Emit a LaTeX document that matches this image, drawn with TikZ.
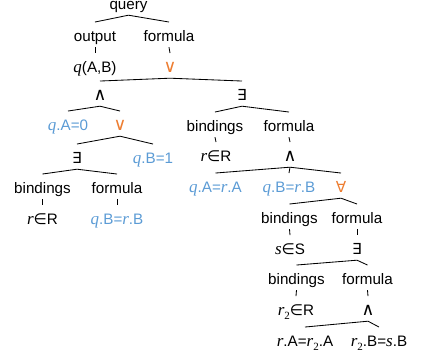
\documentclass[tikz,border=0pt]{standalone}
\usepackage{fontspec}
\setmainfont{Liberation Sans}
\newfontfamily\symfont{DejaVu Sans}
\newfontfamily\varfont[Scale=1.12]{Liberation Serif}
\newcommand\mvar[1]{{\varfont\itshape #1}}
\newcommand\subtwo{\raisebox{-0.4ex}{\varfont\fontsize{7}{8}\selectfont 2}}
\newcommand\sym[1]{{\symfont #1}}
\newcommand\lop[1]{{\symfont\fontsize{12.5}{14}\selectfont #1}}
\definecolor{qblue}{HTML}{5B9BD5}
\definecolor{qorange}{HTML}{ED7D31}

\begin{document}
\begin{tikzpicture}[
        x=0.025cm, y=-0.025cm,
        lbl/.style={anchor=base, inner xsep=1pt, inner ysep=3.5pt, text height=10.5pt, text depth=0pt, font=\fontsize{10.8}{12}\selectfont},
        blu/.style={lbl, text=qblue},
        org/.style={lbl, text=qorange},
        edge/.style={line width=0.6pt}
    ]
        \useasboundingbox (0,0) rectangle (424,359);

        % top of the tree
        \node[lbl] (query) at (128.5,10) {query};
        \node[lbl] (out) at (95,42) {output};
        \node[lbl] (fml) at (169,42) {formula};
        \node[lbl] (qab) at (95,73) {\mvar{q}(A,B)};
        \node[org] (or1) at (170,73) {\lop{∨}};
        \node[lbl] (and1) at (100,101) {\lop{∧}};
        \node[lbl] (ex1) at (242,101) {\sym{∃}};

        % left branch
        \node[blu] (qa0) at (68,131) {\mvar{q}.A=0};
        \node[org] (or2) at (120,131) {\lop{∨}};
        \node[lbl] (ex2) at (77,164) {\sym{∃}};
        \node[blu] (qb1) at (153,164) {\mvar{q}.B=1};
        \node[lbl] (bnd1) at (42.5,194) {bindings};
        \node[lbl] (fml1) at (117,194) {formula};
        \node[lbl] (rinr1) at (42.5,225) {\mvar{r}\sym{∈}R};
        \node[blu] (qbrb1) at (117,225) {\mvar{q}.B=\mvar{r}.B};

        % right branch
        \node[lbl] (bnd2) at (215,132) {bindings};
        \node[lbl] (fml2) at (289,132) {formula};
        \node[lbl] (rinr2) at (216,162) {\mvar{r}\sym{∈}R};
        \node[lbl] (and2) at (290,162) {\lop{∧}};
        \node[blu] (qara) at (215.5,193) {\mvar{q}.A=\mvar{r}.A};
        \node[blu] (qbrb2) at (289,193) {\mvar{q}.B=\mvar{r}.B};
        \node[org] (all) at (341,193) {\sym{∀}};
        \node[lbl] (bnd3) at (289.5,224) {bindings};
        \node[lbl] (fml3) at (357,224) {formula};
        \node[lbl] (sins) at (290,255) {\mvar{s}\sym{∈}S};
        \node[lbl] (ex3) at (357,255) {\sym{∃}};
        \node[lbl] (bnd4) at (296.5,285) {bindings};
        \node[lbl] (fml4) at (367.5,285) {formula};
        \node[lbl] (rtwo) at (296,316) {\mvar{r}\subtwo\sym{∈}R};
        \node[lbl] (and3) at (368,316) {\lop{∧}};
        \node[lbl] (rar2a) at (305,347) {\mvar{r}.A=\mvar{r}\subtwo.A};
        \node[lbl] (r2bsb) at (379,347) {\mvar{r}\subtwo.B=\mvar{s}.B};

        \draw[edge] (out.north) -- (query.south) -- (fml.north);
        \draw[edge] (out.south) -- (qab.north);
        \draw[edge] (fml.south) -- (or1.north);
        \draw[edge] (and1.north) -- (or1.south) -- (ex1.north);
        \draw[edge] (qa0.north) -- (and1.south) -- (or2.north);
        \draw[edge] (ex2.north) -- (or2.south) -- (qb1.north);
        \draw[edge] (bnd1.north) -- (ex2.south) -- (fml1.north);
        \draw[edge] (bnd1.south) -- (rinr1.north);
        \draw[edge] (fml1.south) -- (qbrb1.north);
        \draw[edge] (bnd2.north) -- (ex1.south) -- (fml2.north);
        \draw[edge] (bnd2.south) -- (rinr2.north);
        \draw[edge] (fml2.south) -- (and2.north);
        \draw[edge] (qara.north) -- (and2.south) -- (all.north);
        \draw[edge] (and2.south) -- (qbrb2.north);
        \draw[edge] (bnd3.north) -- (all.south) -- (fml3.north);
        \draw[edge] (bnd3.south) -- (sins.north);
        \draw[edge] (fml3.south) -- (ex3.north);
        \draw[edge] (bnd4.north) -- (ex3.south) -- (fml4.north);
        \draw[edge] (bnd4.south) -- (rtwo.north);
        \draw[edge] (fml4.south) -- (and3.north);
        \draw[edge] (rar2a.north) -- (and3.south) -- (r2bsb.north);
    \end{tikzpicture}
\end{document}
